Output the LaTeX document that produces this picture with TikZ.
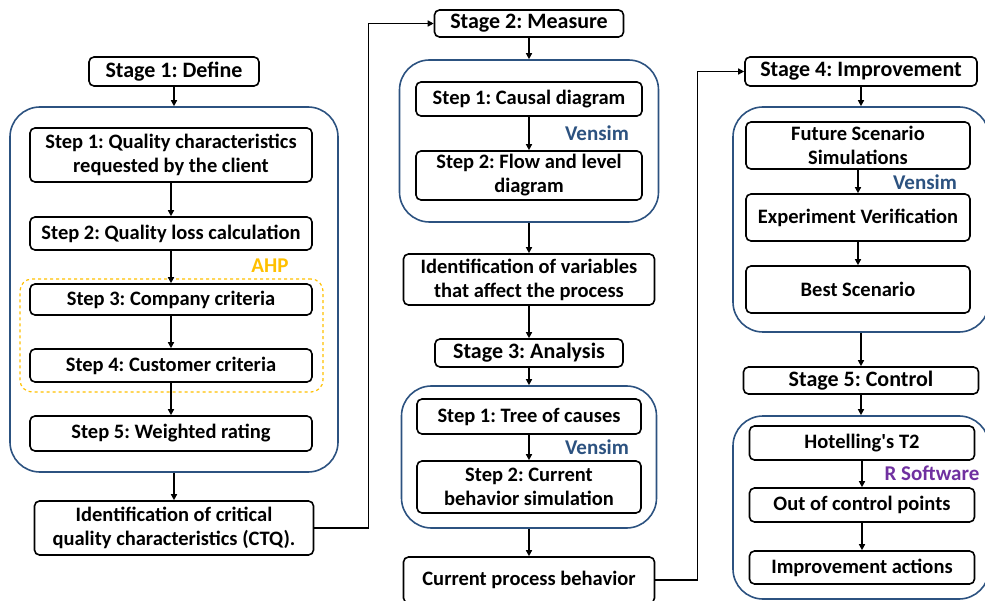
\documentclass[tikz,border=0pt]{standalone}
\usepackage{fontspec}
\setmainfont{Carlito}
\usepackage{xcolor}
\usepackage{tikz}
\usetikzlibrary{arrows.meta}

\definecolor{groupblue}{RGB}{44,82,128}
\definecolor{ahpgold}{RGB}{255,192,0}
\definecolor{rpurple}{RGB}{112,48,160}

\frenchspacing

\begin{document}
\begin{tikzpicture}[x=1pt,y=-1pt]
        \tikzset{step box/.style={draw, line width=1.6pt, rectangle, rounded corners=5pt, fill=white, align=center, inner sep=0pt, font=\fontsize{20.5}{24}\selectfont\bfseries}}
        \tikzset{stage box/.style={step box, font=\fontsize{22}{24}\selectfont\bfseries}}
        \tikzset{group box/.style={draw=groupblue, line width=1.6pt, rectangle, rounded corners=30pt, inner sep=0pt}}
        \tikzset{tool label/.style={inner sep=0pt, font=\fontsize{21}{24}\selectfont\bfseries}}
        \tikzset{arrow style/.style={line width=1.4pt, -{Triangle[length=6pt,width=6pt]}}}

        \useasboundingbox (0,0) rectangle (985,601);

        % Stage 1
        \node[stage box, minimum width=170pt, minimum height=29pt] (define) at (174,71.5) {Stage 1: Define};
        \node[group box, minimum width=328pt, minimum height=365pt] (define group) at (174,289.5) {};
        \node[draw=ahpgold, dashed, line width=1.2pt, rounded corners=12pt, minimum width=303pt, minimum height=113pt] (ahp box) at (171.5,335.5) {};
        \node[tool label, text=ahpgold] (ahp) at (270,266) {AHP};
        \node[step box, minimum width=282pt, minimum height=54pt] (client) at (171,155) {Step 1: Quality characteristics\\requested by the client};
        \node[step box, minimum width=282pt, minimum height=33pt] (loss) at (171,233.5) {Step 2: Quality loss calculation};
        \node[step box, minimum width=282pt, minimum height=31pt] (company) at (171,299.5) {Step 3: Company criteria};
        \node[step box, minimum width=282pt, minimum height=33pt] (customer) at (171,365.5) {Step 4: Customer criteria};
        \node[step box, minimum width=282pt, minimum height=35pt] (rating) at (171,433.5) {Step 5: Weighted rating};
        \node[step box, minimum width=279pt, minimum height=54pt] (ctq) at (174,528) {Identification of critical\\quality characteristics (CTQ).};

        % Stage 2 and 3
        \node[stage box, minimum width=189pt, minimum height=27pt] (measure) at (529,23.5) {Stage 2: Measure};
        \node[group box, minimum width=259pt, minimum height=162pt] (measure group) at (529,141) {};
        \node[step box, minimum width=226pt, minimum height=34pt] (causal) at (529,99) {Step 1: Causal diagram};
        \node[tool label, text=groupblue] (vensim a) at (597,133) {Vensim};
        \node[step box, minimum width=226pt, minimum height=49pt] (flow) at (529,175.5) {Step 2: Flow and level\\diagram};
        \node[step box, minimum width=251pt, minimum height=51pt] (variables) at (529,279.5) {Identification of variables\\that affect the process};
        \node[stage box, minimum width=188pt, minimum height=28pt] (analysis) at (529,353) {Stage 3: Analysis};
        \node[group box, minimum width=255pt, minimum height=142pt] (analysis group) at (529,457) {};
        \node[step box, minimum width=224pt, minimum height=35pt] (tree) at (529,416.5) {Step 1: Tree of causes};
        \node[tool label, text=groupblue] (vensim b) at (597,447) {Vensim};
        \node[step box, minimum width=224pt, minimum height=52pt] (simulation) at (529,487) {Step 2: Current\\behavior simulation};
        \node[step box, minimum width=251pt, minimum height=46pt] (process) at (529,580) {Current process behavior};

        % Stage 4 and 5
        \node[stage box, minimum width=232pt, minimum height=29pt] (improve) at (861,71.5) {Stage 4: Improvement};
        \node[group box, minimum width=256pt, minimum height=225pt] (improve group) at (861,219.5) {};
        \node[step box, minimum width=224pt, minimum height=47pt] (future) at (858,145.5) {Future Scenario\\Simulations};
        \node[tool label, text=groupblue] (vensim c) at (925,182) {Vensim};
        \node[step box, minimum width=224pt, minimum height=47pt] (experiment) at (858,217.5) {Experiment Verification};
        \node[step box, minimum width=224pt, minimum height=47pt] (best) at (858,289.5) {Best Scenario};
        \node[stage box, minimum width=235pt, minimum height=27pt] (control) at (861,380.5) {Stage 5: Control};
        \node[group box, minimum width=256pt, minimum height=183pt] (control group) at (861,507.5) {};
        \node[step box, minimum width=225pt, minimum height=34pt] (hotelling) at (862,443) {Hotelling\textquotesingle s T2};
        \node[tool label, text=rpurple] (rsoft) at (932,473) {R Software};
        \node[step box, minimum width=225pt, minimum height=34pt] (outpoints) at (862,505) {Out of control points};
        \node[step box, minimum width=225pt, minimum height=33pt] (actions) at (862,567.5) {Improvement actions};

        % arrows
        \draw[arrow style] (define) -- (define group);
        \draw[arrow style] (client) -- (loss);
        \draw[arrow style] (loss) -- (company);
        \draw[arrow style] (company) -- (customer);
        \draw[arrow style] (customer) -- (rating);
        \draw[arrow style] (define group) -- (ctq);
        \draw[arrow style] (ctq.east) -- ++(54,0) |- (measure.west);

        \draw[arrow style] (measure) -- (measure group);
        \draw[arrow style] (causal) -- (flow);
        \draw[arrow style] (measure group) -- (variables);
        \draw[arrow style] (variables) -- (analysis);
        \draw[arrow style] (analysis) -- (analysis group);
        \draw[arrow style] (tree) -- (simulation);
        \draw[arrow style] (analysis group) -- (process);
        \draw[arrow style] (process.east) -- ++(42,0) |- (improve.west);

        \draw[arrow style] (improve) -- (improve group);
        \draw[arrow style] (future) -- (experiment);
        \draw[arrow style] (experiment) -- (best);
        \draw[arrow style] (improve group) -- (control);
        \draw[arrow style] (control) -- (control group);
        \draw[arrow style] (hotelling) -- (outpoints);
        \draw[arrow style] (outpoints) -- (actions);
    \end{tikzpicture}
\end{document}
